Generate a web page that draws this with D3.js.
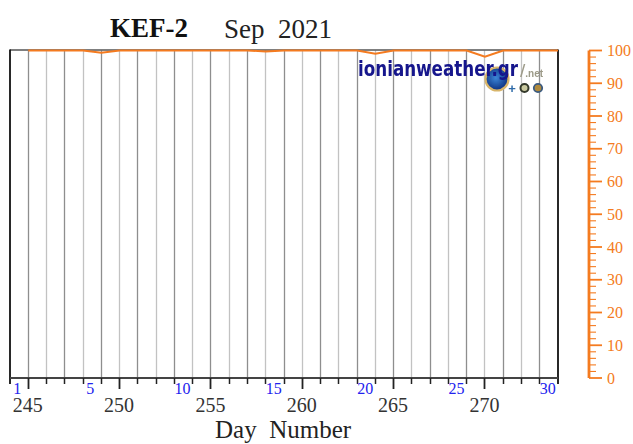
<!DOCTYPE html>
<html><head><meta charset="utf-8">
<script src="https://cdn.jsdelivr.net/npm/d3@7"></script>
<style>html,body{margin:0;padding:0;background:#fff}svg{display:block}</style>
</head><body><svg id="c" width="633" height="444"></svg>
<script>
const dayNumbers = d3.range(245, 275);
const percentValues = [100,100,100,100,99.3,100,100,100,100,100,100,100,100,99.7,100,100,100,100,100,99,100,100,100,100,100,98.1,100,100,100,100];
const dayTicks = d3.range(244, 275);
const labelledTicks = [245,250,255,260,265,270];
const monthDays = [1,5,10,15,20,25,30];
const rightTicks = d3.range(0, 101, 10);
const rightMinor = d3.range(0, 101, 2);

const svg = d3.select('#c');
const x = d3.scaleLinear().domain([244, 274]).range([10, 558]);
const y = d3.scaleLinear().domain([0, 100]).range([378, 50.5]);
const orange = '#f47b20';
const serif = '"Liberation Serif","Times New Roman",serif';
const px = d => Math.floor(x(d)) + .5;

svg.append('defs').append('filter').attr('id','soft').append('feGaussianBlur').attr('stdDeviation',0.6);

// grid
svg.append('g').selectAll('line').data(dayTicks.slice(1,-1)).join('line')
  .attr('x1',px).attr('x2',px)
  .attr('y1',y(100)).attr('y2',y(0))
  .attr('stroke',(d,i)=>i%2?'#c2c2c2':'#8e8e8e').attr('stroke-width',1.3);

// frame
const frame = svg.append('g');
frame.append('line').attr('x1',x(244)).attr('x2',x(274)).attr('y1',y(100)-.5).attr('y2',y(100)-.5).attr('stroke','#555').attr('stroke-width',1.6);
frame.append('line').attr('x1',x(244)).attr('x2',x(244)).attr('y1',y(100)-1).attr('y2',y(0)+6).attr('stroke','#111').attr('stroke-width',1.8);
frame.append('line').attr('x1',x(274)).attr('x2',x(274)).attr('y1',y(100)-1).attr('y2',y(0)+6).attr('stroke','#111').attr('stroke-width',1.8);
frame.append('line').attr('x1',x(244)).attr('x2',x(274)).attr('y1',y(0)).attr('y2',y(0)).attr('stroke','#444').attr('stroke-width',1.8);

// bottom ticks
svg.append('g').selectAll('line').data(dayTicks.slice(1,-1)).join('line')
  .attr('x1',px).attr('x2',px)
  .attr('y1',y(0)).attr('y2',d=>y(0)+(labelledTicks.includes(d)?11:6))
  .attr('stroke','#222').attr('stroke-width',d=>labelledTicks.includes(d)?1.8:1.5);

// series
svg.append('path').datum(dayNumbers.map((d,i)=>[d,percentValues[i]]))
  .attr('fill','none').attr('stroke',orange).attr('stroke-width',2)
  .attr('d',d3.line().x(d=>x(d[0])).y(d=>y(d[1])));

// logo
const logo = svg.append('g').attr('filter','url(#soft)');
const g1 = svg.append('defs').append('radialGradient').attr('id','globe').attr('cx','.45').attr('cy','.45').attr('r','.6');
g1.append('stop').attr('offset','0').attr('stop-color','#3c86d8');
g1.append('stop').attr('offset','1').attr('stop-color','#0a2a78');
logo.append('circle').attr('cx',497).attr('cy',79).attr('r',11.5).attr('fill','url(#globe)').attr('stroke','#d8b56a').attr('stroke-width',2.2);
logo.append('text').attr('x',358).attr('y',76).attr('font-family','"DejaVu Sans",Verdana,sans-serif')
  .attr('font-weight',700).attr('font-size',21).attr('fill','#14148c')
  .attr('textLength',160).attr('lengthAdjust','spacingAndGlyphs').text('ionianweather.gr');
const net = logo.append('text').attr('x',520).attr('y',77).attr('font-family','"Liberation Sans",Arial,sans-serif').attr('fill','#9c9a88');
net.append('tspan').attr('font-size',19).text('/');
net.append('tspan').attr('font-size',10).attr('font-weight',700).text('.net');
logo.append('text').attr('x',512).attr('y',93).attr('text-anchor','middle').attr('font-family','"Liberation Sans",Arial,sans-serif')
  .attr('font-weight',700).attr('font-size',13).attr('fill','#2e6aa8').text('+');
logo.append('circle').attr('cx',524.5).attr('cy',88).attr('r',4).attr('fill','#c9c9a0').attr('stroke','#33372a').attr('stroke-width',2);
logo.append('circle').attr('cx',538).attr('cy',88).attr('r',4.2).attr('fill','#b08a3c').attr('stroke','#3a5a80').attr('stroke-width',1.8);

// bottom labels
svg.append('g').selectAll('text').data(labelledTicks).join('text')
  .attr('x',d=>x(d)-.5).attr('y',412).attr('text-anchor','middle')
  .attr('font-family',serif).attr('font-size',20).attr('fill','#333').text(d=>d);
svg.append('g').selectAll('text').data(monthDays).join('text')
  .attr('x',d=>x(243.5+d)-(d<10?2:1)).attr('y',394).attr('text-anchor','middle')
  .attr('font-family',serif).attr('font-size',16).attr('fill','#2222ee').text(d=>d);

// right axis
const ax = svg.append('g').attr('stroke',orange);
ax.append('line').attr('x1',589).attr('x2',589).attr('y1',y(100)).attr('y2',y(0)).attr('stroke-width',2.8);
ax.selectAll('.m').data(rightMinor).join('line').attr('class','m')
  .attr('x1',589).attr('x2',d=>d%10===0?602:596).attr('y1',d=>y(d)).attr('y2',d=>y(d))
  .attr('stroke-width',d=>d%10===0?1.8:1.1);
svg.append('g').selectAll('text').data(rightTicks).join('text')
  .attr('x',607).attr('y',d=>y(d)+5.5)
  .attr('font-family',serif).attr('font-size',16).attr('fill',orange).text(d=>d);

// titles
svg.append('text').attr('x',110).attr('y',37).attr('font-family',serif).attr('font-weight',700).attr('font-size',27).attr('fill','#111').text('KEF-2');
svg.append('text').attr('x',224).attr('y',38).attr('font-family',serif).attr('font-size',27).attr('fill','#222').style('white-space','pre').text('Sep  2021');
svg.append('text').attr('x',215).attr('y',438).attr('font-family',serif).attr('font-size',25).attr('fill','#222').style('white-space','pre').text('Day  Number');
</script></body></html>
